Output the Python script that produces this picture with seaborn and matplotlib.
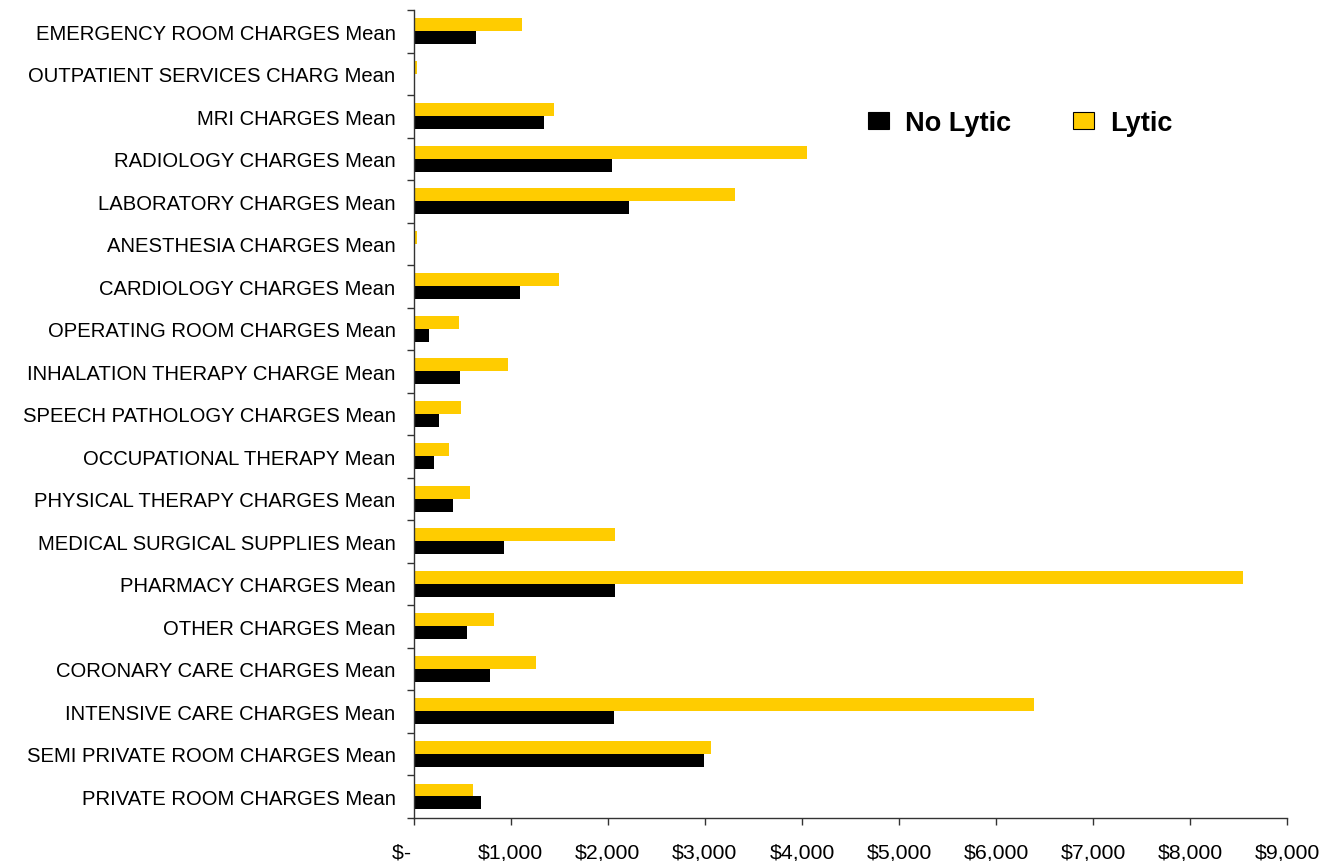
import matplotlib
matplotlib.use("Agg")
import matplotlib.pyplot as plt
from matplotlib.patches import Patch
from matplotlib.ticker import FixedLocator, FuncFormatter
import numpy as np
import pandas as pd
import seaborn as sns

categories = [
    "EMERGENCY ROOM CHARGES Mean",
    "OUTPATIENT SERVICES CHARG Mean",
    "MRI CHARGES Mean",
    "RADIOLOGY CHARGES Mean",
    "LABORATORY CHARGES Mean",
    "ANESTHESIA CHARGES Mean",
    "CARDIOLOGY CHARGES Mean",
    "OPERATING ROOM CHARGES Mean",
    "INHALATION THERAPY CHARGE Mean",
    "SPEECH PATHOLOGY CHARGES Mean",
    "OCCUPATIONAL THERAPY Mean",
    "PHYSICAL THERAPY CHARGES Mean",
    "MEDICAL SURGICAL SUPPLIES Mean",
    "PHARMACY CHARGES Mean",
    "OTHER CHARGES Mean",
    "CORONARY CARE CHARGES Mean",
    "INTENSIVE CARE CHARGES Mean",
    "SEMI PRIVATE ROOM CHARGES Mean",
    "PRIVATE ROOM CHARGES Mean",
]
no_lytic = [638, 0, 1339, 2043, 2221, 0, 1092, 154, 477, 264, 206, 405,
            930, 2077, 549, 783, 2060, 2994, 693]
lytic = [1115, 34, 1445, 4052, 3310, 34, 1497, 467, 971, 487, 364, 580,
         2074, 8543, 827, 1260, 6390, 3063, 611]
x_ticks = [0, 1000, 2000, 3000, 4000, 5000, 6000, 7000, 8000, 9000]

df = pd.DataFrame({
    "category": categories * 2,
    "group": ["Lytic"] * len(categories) + ["No Lytic"] * len(categories),
    "charge": lytic + no_lytic,
})

sns.set_theme(style="white")
plt.rcParams["font.family"] = ["Liberation Sans", "DejaVu Sans"]
plt.rcParams["text.color"] = "black"
plt.rcParams["xtick.color"] = "black"
plt.rcParams["ytick.color"] = "black"

colors = {"No Lytic": "#000000", "Lytic": "#FFCC00"}

fig = plt.figure(figsize=(13.25, 8.62), dpi=100)
ax = fig.add_axes([0.3122, 0.0502, 0.6594, 0.937])

sns.barplot(data=df, y="category", x="charge", hue="group",
            hue_order=["Lytic", "No Lytic"], order=categories,
            palette=colors, orient="h", width=0.61, saturation=1,
            linewidth=0, legend=False, ax=ax)

n = len(categories)
ax.set_xlim(0, 9000)
ax.set_ylim(n - 0.5, -0.5)

# category boundaries carry the tick marks, centers carry the labels
ax.yaxis.set_major_locator(FixedLocator(np.arange(n + 1) - 0.5))
ax.yaxis.set_major_formatter(FuncFormatter(lambda v, p: ""))
ax.yaxis.set_minor_locator(FixedLocator(np.arange(n)))
ax.set_yticklabels(categories, minor=True)
ax.tick_params(axis="y", which="major", length=5, width=1, color="#333333",
               direction="out", left=True)
ax.tick_params(axis="y", which="minor", length=0, pad=13, labelsize=14.6,
               labelcolor="black")

ax.set_xticks(x_ticks)
ax.set_xticklabels(["$-    "] + [f"${v:,.0f}" for v in x_ticks[1:]])
ax.tick_params(axis="x", which="major", length=5, width=1, color="#333333",
               direction="out", bottom=True, pad=13, labelsize=15.3,
               labelcolor="black")

ax.set_xlabel("")
ax.set_ylabel("")
for side in ["top", "right"]:
    ax.spines[side].set_visible(False)
for side in ["left", "bottom"]:
    ax.spines[side].set_color("#333333")
    ax.spines[side].set_linewidth(1)

handles = [
    Patch(facecolor=colors["No Lytic"], edgecolor="#000000", linewidth=0.8),
    Patch(facecolor=colors["Lytic"], edgecolor="#000000", linewidth=0.8),
]
fig.legend(handles, ["No Lytic", "Lytic"], ncol=2, frameon=False,
           loc="center left", bbox_to_anchor=(868 / 1325, 1 - 124 / 862),
           borderpad=0, borderaxespad=0, handlelength=0.78, handleheight=0.63,
           handletextpad=0.6, columnspacing=2.26, labelcolor="black",
           prop={"weight": "bold", "size": 19.5})

fig.savefig("out.png", dpi=100)
